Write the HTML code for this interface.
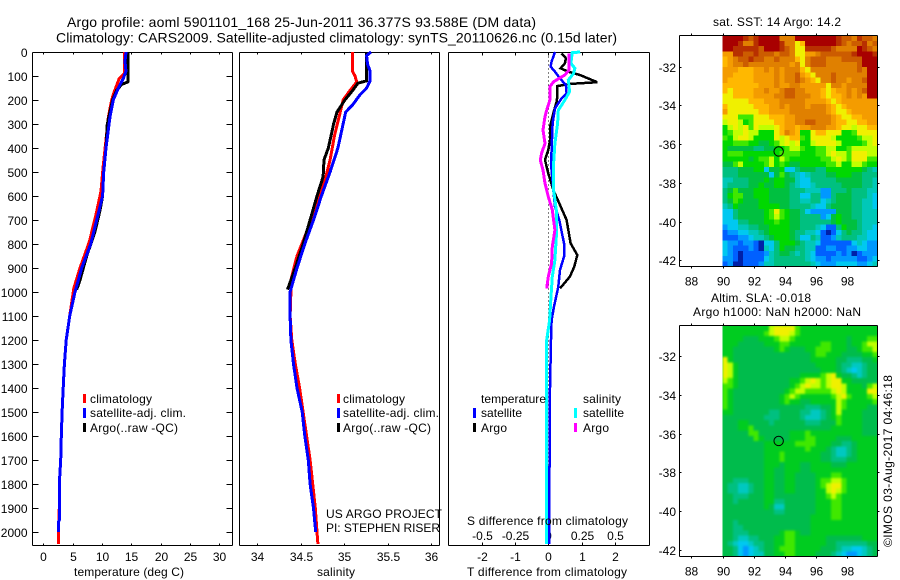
<!DOCTYPE html>
<html>
<head>
<meta charset="utf-8">
<title>Argo profile</title>
<style>
html,body{margin:0;padding:0;background:#fff;}
svg{display:block;}
text{font-family:"Liberation Sans",sans-serif;font-size:12px;fill:#000;}
.ttl{font-size:14px;}
</style>
</head>
<body>
<svg id="chart" xmlns="http://www.w3.org/2000/svg" width="900" height="580" viewBox="0 0 900 580">
<defs>
<filter id="sla-smooth" x="-5%" y="-5%" width="110%" height="110%" color-interpolation-filters="sRGB"><feGaussianBlur stdDeviation="1"/></filter>
<clipPath id="sla-clip"><rect x="722.5" y="325.5" width="155" height="231"/></clipPath>
</defs>
<rect x="0" y="0" width="900" height="580" fill="#fff"/>
<text class="ttl" x="67" y="27" textLength="469">Argo profile: aoml 5901101_168 25-Jun-2011 36.377S 93.588E (DM data)</text>
<text class="ttl" x="56" y="42.5" textLength="561">Climatology: CARS2009. Satellite-adjusted climatology: synTS_20110626.nc (0.15d later)</text>
<g id="marks"></g>
<text x="74" y="576" textLength="110">temperature (deg C)</text>
<text x="317" y="576" textLength="38">salinity</text>
<text x="467" y="576" textLength="160">T difference from climatology</text>
<text x="467" y="525" textLength="161">S difference from climatology</text>
<g>
<rect x="83" y="394" width="3" height="9" fill="#f00"/>
<rect x="83" y="408" width="3" height="10" fill="#00f"/>
<rect x="83" y="423" width="3" height="9" fill="#000"/>
<text x="90" y="403" textLength="62">climatology</text>
<text x="90" y="417" textLength="96">satellite-adj. clim.</text>
<text x="90" y="432" textLength="88">Argo(..raw -QC)</text>
</g>
<g>
<rect x="337" y="394" width="3" height="9" fill="#f00"/>
<rect x="337" y="408" width="3" height="10" fill="#00f"/>
<rect x="337" y="423" width="3" height="9" fill="#000"/>
<text x="343" y="403" textLength="62">climatology</text>
<text x="343" y="417" textLength="96">satellite-adj. clim.</text>
<text x="343" y="432" textLength="88">Argo(..raw -QC)</text>
</g>
<text x="326" y="518" textLength="116">US ARGO PROJECT</text>
<text x="326" y="532" textLength="114">PI: STEPHEN RISER</text>
<g>
<text x="481" y="403" textLength="65">temperature</text>
<text x="583" y="403" textLength="38">salinity</text>
<rect x="473" y="408" width="3" height="10" fill="#00f"/>
<rect x="473" y="423" width="3" height="9" fill="#000"/>
<rect x="574" y="408" width="3" height="10" fill="#0ff"/>
<rect x="574" y="423" width="3" height="9" fill="#f0f"/>
<text x="481" y="417" textLength="41">satellite</text>
<text x="481" y="432" textLength="26">Argo</text>
<text x="583" y="417" textLength="41">satellite</text>
<text x="583" y="432" textLength="26">Argo</text>
</g>
<text x="713" y="26" textLength="128">sat. SST: 14 Argo: 14.2</text>
<text x="711" y="302" textLength="100">Altim. SLA: -0.018</text>
<text x="693" y="316" textLength="168">Argo h1000: NaN h2000: NaN</text>
<text transform="translate(892,547) rotate(-90)" x="0" y="0" textLength="172">©IMOS 03-Aug-2017 04:46:18</text>
</svg>
<script>
// ---------- data ----------
const depthTicks = [0,100,200,300,400,500,600,700,800,900,1000,1100,1200,1300,1400,1500,1600,1700,1800,1900,2000];
const tempTicks = [0,5,10,15,20,25,30];
const salTicks = [34,34.5,35,35.5,36];
const tDiffTicks = [-2,-1,0,1,2];
const sDiffTicks = [-0.5,-0.25,0,0.25,0.5];
const sDiffTickLabels = ['-0.5','-0.25','0','0.25','0.5'];
const lonTicks = [88,90,92,94,96,98];
const latTicks = [-32,-34,-36,-38,-40,-42];

const tempClimDepth = [0,90,110,175,200,270,385,480,580,677,790,900,985,1100,1200,1300,1400,1500,1600,1700,1800,1900,2000,2050];
const tempClim = [13.87,13.8,12.96,11.94,11.65,11.1,10.6,10.2,9.84,8.98,7.85,6.25,5.2,4.5,3.9,3.6,3.4,3.2,3.07,2.96,2.73,2.73,2.56,2.56];
const tempSatDepth = [0,40,80,110,150,200,270,400,500,600,700,800,900,1000,1100,1200,1300,1400,1500,1600,1700,1800,1950,1960,2000];
const tempSat = [14.1,13.93,14.1,13.64,12.8,11.93,11.37,10.69,10.3,10.1,9.1,8.08,6.54,5.4,4.5,3.9,3.6,3.4,3.2,3.07,2.96,2.73,2.73,2.56,2.56];
const tempArgoDepth = [0,120,125,135,160,200,300,400,500,600,660,750,850,950,990];
const tempArgo = [14.43,14.43,14.4,13.36,12.5,11.82,10.9,10.69,10.3,10.1,9.66,8.8,7.4,6.25,5.7];

const salClimDepth = [0,80,100,125,160,200,260,350,450,550,650,750,850,950,1000,1100,1200,1300,1400,1500,1600,1700,1800,1900,2000,2050];
const salClim = [35.096,35.096,35.126,35.146,35.07,34.99,34.95,34.89,34.84,34.77,34.67,34.57,34.46,34.39,34.39,34.38,34.4,34.44,34.49,34.53,34.57,34.61,34.64,34.67,34.69,34.7];
const salSatDepth = [0,15,50,80,120,150,180,220,250,300,400,500,600,700,800,900,1000,1100,1200,1300,1400,1500,1600,1700,1800,1900,2000];
const salSat = [35.31,35.26,35.27,35.3,35.3,35.26,35.18,35.1,35.02,34.99,34.93,34.84,34.74,34.65,34.55,34.46,34.38,34.38,34.39,34.42,34.46,34.52,34.55,34.59,34.61,34.65,34.675];
const salArgoDepth = [0,120,130,160,200,250,300,350,400,450,520,600,700,800,900,990];
const salArgo = [35.26,35.26,35.16,35.1,35.01,34.92,34.88,34.85,34.82,34.77,34.76,34.69,34.61,34.53,34.44,34.35];

const tDiffSatDepth = [0,40,61,82,110,138,172,193,235,297,408,464,575,644,700,797,853,908,978,1061,1117,1200,1400,1728,1730,2050];
const tDiffSat = [0.2,0.1,0.07,0.2,0.35,0.53,0.55,0.4,0.2,0.13,0.1,0.08,0.15,0.2,0.33,0.47,0.47,0.35,0.3,0.17,0.1,0.08,0.05,0.04,0.02,0.02];
const tDiffArgoDepth = [6,26,47,68,82,96,126,133,142,186,207,256,311,367,408,450,506,575,631,700,797,846,894,936,985];
const tDiffArgo = [0.4,0.53,0.5,0.37,0.6,0.95,1.47,0.65,0.27,0.27,0.25,0.15,0.05,0.05,0,-0.1,0,0.15,0.33,0.55,0.67,0.87,0.78,0.65,0.35];
const sDiffSatDepth = [0,3,47,68,89,117,165,200,242,297,381,464,575,658,769,867,936,1019,1117,1200,2050];
const sDiffSat = [0.24,0.18,0.17,0.2,0.19,0.15,0.16,0.125,0.075,0.07,0.05,0.04,0.04,0.06,0.06,0.05,0.03,0.02,0.01,-0.012,-0.012];
const sDiffArgoDepth = [6,75,96,124,144,200,235,269,325,381,422,450,492,547,603,658,742,811,881,936,985];
const sDiffArgo = [0.155,0.155,0.125,0.04,0.012,0.012,-0.008,-0.025,-0.04,-0.025,-0.05,-0.06,-0.04,-0.025,0,0.03,0.05,0.03,0.025,0,-0.012];

const colourLevels = '0123456789abcdefg';
const sstGrid = [
'ggggfefggggdddggggggggfeedfeed',
'gggfddfggggfddabggggggfedeefde',
'ggfffffegggfedaafffffeddddgfed',
'ccffeefeeedeedaaccdeeeeeefgggf',
'bcdeefeeddedddbadeeedddeeeeggg',
'bcddeddddddddcdadeeeddddddeggg',
'cccbbbccdcdcdddbadddddddddedgg',
'ccbbbbccccdcddecbadddeddddddgg',
'cbbbbbccccdcddedcbaddeddcddegg',
'bbbbbbbcccdccddcccccaddcddddgg',
'babbbbccdccdeeddcccbabccdcdegg',
'aabbbbccccddeedddccbabbcdcdcgg',
'aaaaabbbcccdddddccccbabccccccc',
'baaaaabbbccdcdddcdddcbabcccccc',
'caaaaaabbccccdddddddcbaabccccc',
'aaa888aaabbbccdddddddcbaabbccc',
'9aa978aaaabbccddeedddcbbaabbcc',
'79a9a8a999abccbccdddccbaa9aabb',
'7899a99777abdcb77abbaaa778aaaa',
'879aa97777a9abb87aaaa97777899a',
'77888 77667 89a9a 77 9aaaa 97777 89a',
'76666 65566 77899 87788 99778 99999',
'78887 77777 78888 77788 9a998 aaa99',
'77777 67889 79877 77778 89a98 aaa88',
'66897 77789 78766 77777 88977 99877',
'55566 67736 67335 66655 77777 77654',
'55566 66663 68654 34555 66777 66555',
'44555 66676 77664 33555 55666 66554',
'45555 66766 77654 33455 55566 66554',
'56866 67776 66655 54442 25556 55544',
'57886 67776 66655 33552 25666 55543',
'56876 66776 66655 44553 45666 55443',
'45766 66777 76655 55433 56666 55443',
'33566 66678 a8766 53222 22666 55444',
'33566 66678 98766 55552 36766 55444',
'33355 66677 87766 55555 56766 65444',
'23344 55667 77766 55543 11576 65443',
'12233 44567 77765 54431 01356 55433',
'11122 34456 77765 33541 12455 54433',
'32212 21033 57776 54431 11111 34322',
'32111 21043 57665 54411 22112 23322',
'32101 11124 56654 54311 11212 01222',
'22101 11134 55555 54322 12222 21123',
'12001 11244 55555 55432 22333 32234'
];
const slaGrid = [
'77777 77779 aaaa8 77777 77777 77777',
'77777 77789 aaa98 77777 77777 77777',
'77776 66777 89987 77777 77776 77788',
'77766 66677 78877 77778 87776 77899',
'77666 66666 78766 67788 87776 67889',
'77666 66666 66666 66788 77766 66778',
'a7666 66666 66666 66777 77665 55667',
'a9766 66666 66666 66677 77655 44566',
'a9766 66666 66666 66667 77654 34566',
'a9766 66666 66666 77778 9a766 54566',
'98766 66666 66677 89a98 9aa77 66666',
'88766 66666 66678 9a998 9aa97 77689',
'87666 66666 66789 98888 89a97 777aa',
'87666 66666 67898 77777 789a8 77789',
'87666 66666 67877 66777 77987 77778',
'87666 66666 66666 65556 67987 77766',
'77666 66665 56666 55445 67977 77666',
'66666 66655 56666 54445 67877 77666',
'66677 66665 66666 65556 66877 77666',
'66677 86666 66666 66666 67777 77666',
'66666 88666 66677 78777 77777 77666',
'66666 68766 66677 78877 77666 77777',
'66666 66677 77778 88877 76655 67777',
'66666 66677 77777 78777 65445 67777',
'66666 66677 78777 77776 65445 67777',
'66666 66677 78777 77776 65556 67777',
'66666 66677 76777 66777 76667 77777',
'66666 66677 66777 66777 77777 77777',
'66666 66677 66776 66677 78877 77777',
'66555 66677 66776 66678 89987 77777',
'65544 56677 66776 66678 9aa87 77777',
'65544 56677 66776 66677 9a987 77777',
'66555 66677 66666 66677 89877 77777',
'66566 66677 55666 66677 78877 77777',
'66666 66676 44666 66677 78877 77777',
'66666 66666 55666 66677 78877 77777',
'66666 66666 66666 66777 78877 77777',
'66566 66666 66666 66777 77777 77777',
'66556 66666 66666 66777 77777 77777',
'66555 66666 67887 66777 77777 77777',
'66544 55666 77887 77777 66666 66777',
'65433 45566 77887 77777 66555 55566',
'66532 34566 78887 77776 66544 33456',
'66532 34466 77887 77766 65432 23456'
];

// ---------- helpers ----------
const svgNS = 'http://www.w3.org/2000/svg';
const root = document.getElementById('marks');
const yPlotTop = 52, yPerMetre = 0.24;
function depthY(d){ return yPlotTop + d * yPerMetre; }
function tempX(v){ return 43.3 + v * 5.867; }
function salX(v){ return 257 + (v - 34) * 87; }
function tDiffX(v){ return 548.3 + v * 33.3; }
function sDiffX(v){ return 548.3 + v * 133; }
const sstBox = {x0:679.5, x1:877.5, y0:35.5, y1:266.5, lat32:66.7};
const slaBox = {x0:679.5, x1:877.5, y0:325.5, y1:556.5, lat32:356.2};
function lonX(v){ return 691.3 + (v - 88) * 15.6; }
function latY(box, v){ return box.lat32 + (-32 - v) * 19.37; }

function seg(x1,y1,x2,y2,w){
  const el = document.createElementNS(svgNS,'line');
  
  
  el.setAttribute('x1',x1);el.setAttribute('y1',y1);el.setAttribute('x2',x2);el.setAttribute('y2',y2);
  el.setAttribute('stroke','#000');el.setAttribute('stroke-width',w||1);
  el.setAttribute('shape-rendering','crispEdges');
  root.appendChild(el);
  return el;
}
function tick(x1,y1,x2,y2){
  const el = seg(x1,y1,x2,y2,1);
  
}
function label(str,x,y,anchor){
  const el = document.createElementNS(svgNS,'text');
  
  
  el.setAttribute('x',x);el.setAttribute('y',y);
  el.setAttribute('text-anchor',anchor||'middle');
  el.textContent = str;
  root.appendChild(el);
}
function profile(values,depths,xFn,colour,width,name){
  const el = document.createElementNS(svgNS,'polyline');
  
  
  let pts = '';
  for(let i=0;i<values.length;i++){ pts += xFn(values[i]).toFixed(1)+','+depthY(depths[i]).toFixed(1)+' '; }
  el.setAttribute('points',pts);
  el.setAttribute('fill','none');
  el.setAttribute('stroke',colour);
  el.setAttribute('stroke-width',width);
  el.setAttribute('shape-rendering','crispEdges');
  root.appendChild(el);
}
function heatmap(grid,box,name,smooth){
  const palette = ['#0020a8','#0060ff','#0098ff','#00c8f0','#00c8b8','#00c080','#00c040','#00d800','#40e800','#c0ff00','#f0f000','#ffb800','#f49c00','#e08000','#cc5c00','#b83000','#a80000'];
  if(smooth){ palette[6] = '#00bc4c'; palette[7] = '#00cc20'; palette[4] = '#00c8c0'; }
  const left = lonX(90), w = box.x1 - left, h = box.y1 - box.y0;
  const clip = document.createElementNS(svgNS,'g');
  
  
  const layer = document.createElementNS(svgNS,'g');
  
  
  if(smooth){
    clip.setAttribute('clip-path','url(#sla-clip)');
    layer.setAttribute('filter','url(#sla-smooth)');
    const base = document.createElementNS(svgNS,'rect');
    
    
    base.setAttribute('x',left);base.setAttribute('y',box.y0);
    base.setAttribute('width',w);base.setAttribute('height',h);
    base.setAttribute('fill','#00c438');
    clip.appendChild(base);
  }
  for(let r=0;r<grid.length;r++){
    const row = grid[r].replace(/ /g,''), cw = w/row.length, ch = h/grid.length;
    for(let c=0;c<row.length;c++){
      const cell = document.createElementNS(svgNS,'rect');
      
      
      cell.setAttribute('x',(left+c*cw).toFixed(2));
      cell.setAttribute('y',(box.y0+r*ch).toFixed(2));
      cell.setAttribute('width',(cw+0.4).toFixed(2));
      cell.setAttribute('height',(ch+0.4).toFixed(2));
      cell.setAttribute('fill',palette[colourLevels.indexOf(row[c])]);
      cell.setAttribute('shape-rendering','crispEdges');
      layer.appendChild(cell);
    }
  }
  clip.appendChild(layer);
  root.appendChild(clip);
}
function frame(x0,y0,x1,y1){
  seg(x0,y0,x1,y0);seg(x0,y1,x1,y1);seg(x0,y0,x0,y1);seg(x1,y0,x1,y1);
}
function argoMarker(box){
  const el = document.createElementNS(svgNS,'circle');
  
  
  el.setAttribute('cx',lonX(93.6));
  el.setAttribute('cy',latY(box,-36.377));
  el.setAttribute('r',4.7);
  el.setAttribute('fill','none');
  el.setAttribute('stroke','#000');
  el.setAttribute('stroke-width',1);
  root.appendChild(el);
}

// ---------- profile panels ----------
const plotTop = 52.5, plotBottom = 545.5;
frame(32.5,plotTop,232.5,plotBottom);
frame(239.5,plotTop,439.5,plotBottom);
frame(448.5,plotTop,649.5,plotBottom);

depthTicks.forEach(function(d){
  const y = Math.round(depthY(d))+0.5;
  tick(32.5,y,38.5,y);
  tick(226.5,y,232.5,y);
  label(String(d),27.5,y+4.5,'end');
});
tempTicks.forEach(function(v){
  const x = Math.round(tempX(v))+0.5;
  tick(x,plotTop,x,plotTop+2);
  tick(x,plotBottom,x,plotBottom-2);
  label(String(v),x,561);
});
salTicks.forEach(function(v){
  const x = Math.round(salX(v))+0.5;
  tick(x,plotTop,x,plotTop+2);
  tick(x,plotBottom,x,plotBottom-2);
  label(String(v),x,561);
});
tDiffTicks.forEach(function(v){
  const x = Math.round(tDiffX(v))+0.5;
  tick(x,plotTop,x,plotTop+3);
  tick(x,plotBottom,x,plotBottom-3);
  label(String(v),x,561);
});
sDiffTicks.forEach(function(v,i){
  const x = Math.round(sDiffX(v))+0.5;
  label(sDiffTickLabels[i],x,540);
});

profile(tempClim,tempClimDepth,tempX,'#f00',3,'temperature-climatology-line');
profile(tempArgo,tempArgoDepth,tempX,'#000',3,'temperature-argo-line');
profile(tempSat,tempSatDepth,tempX,'#00f',3,'temperature-satellite-line');

profile(salClim,salClimDepth,salX,'#f00',3,'salinity-climatology-line');
profile(salArgo,salArgoDepth,salX,'#000',3,'salinity-argo-line');
profile(salSat,salSatDepth,salX,'#00f',3,'salinity-satellite-line');

const zeroLine = seg(tDiffX(0),plotTop,tDiffX(0),plotBottom,1);

zeroLine.setAttribute('stroke-dasharray','1 3');

profile(tDiffArgo,tDiffArgoDepth,tDiffX,'#000',2.5,'t-difference-argo-line');
profile(tDiffSat,tDiffSatDepth,tDiffX,'#00f',2.5,'t-difference-satellite-line');
profile(sDiffSat,sDiffSatDepth,sDiffX,'#0ff',3,'s-difference-satellite-line');
profile(sDiffArgo,sDiffArgoDepth,sDiffX,'#f0f',3,'s-difference-argo-line');

// ---------- maps ----------
[[sstGrid,sstBox,'sst-cell',false],[slaGrid,slaBox,'sla-cell',true]].forEach(function(m){
  const box = m[1];
  heatmap(m[0],box,m[2],m[3]);
  frame(box.x0,box.y0,box.x1,box.y1);
  lonTicks.forEach(function(v){
    const x = Math.round(lonX(v))+0.5;
    tick(x,box.y0-2,x,box.y0);
    tick(x,box.y1,x,box.y1+2);
    label(String(v),x,box.y1+19);
  });
  latTicks.forEach(function(v){
    const y = Math.round(latY(box,v))+0.5;
    tick(box.x0,y,box.x0+2,y);
    tick(box.x1,y,box.x1+2,y);
    label(String(v),676,y+4.5,'end');
  });
  argoMarker(box);
});
</script>
</body>
</html>
